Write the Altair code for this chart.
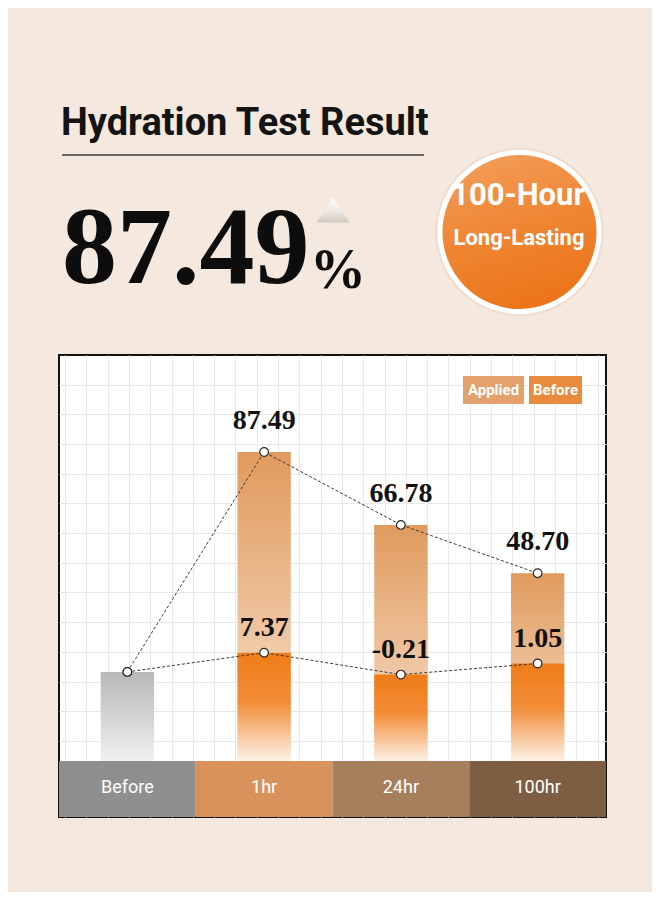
import altair as alt
import pandas as pd

# ---------------- data ----------------
categories = ["Before", "1hr", "24hr", "100hr"]
applied_vals = [29.7, 103.0, 78.7, 62.6]      # hydration level after application (arb. units)
before_vals = [29.7, 36.1, 28.8, 32.5]        # hydration level of untreated skin (arb. units)
applied_labels = ["", "87.49", "66.78", "48.70"]
before_labels = ["", "7.37", "-0.21", "1.05"]
band_colors = ["#8f8f8f", "#d9925b", "#a67f5c", "#7e5e43"]

title_text = "Hydration Test Result"
headline_value = "87.49"
headline_unit = "%"
badge_line1 = "100-Hour"
badge_line2 = "Long-Lasting"
legend_applied = "Applied"
legend_before = "Before"

NARROW = "Roboto, 'Liberation Sans', sans-serif"
SERIF = "Liberation Serif"

W, H = 547, 462
BASE = 406  # pixel row of bar baseline inside plot

df = pd.DataFrame({
    "category": categories,
    "applied": applied_vals,
    "before": before_vals,
    "applied_label": applied_labels,
    "before_label": before_labels,
    "idx": list(range(len(categories))),
})
line_df = pd.concat([
    pd.DataFrame({"category": categories, "value": applied_vals, "series": "Applied", "idx": range(4)}),
    pd.DataFrame({"category": categories, "value": before_vals, "series": "Before", "idx": range(4)}),
])

xscale = alt.Scale(domain=categories, paddingInner=0, paddingOuter=0)
yscale = alt.Scale(domain=[0, 135], range=[BASE, 1], nice=False, zero=True)
hgrid = [6.7, 16.6, 26.5, 36.4, 46.3, 56.2, 66.1, 76.0, 85.9, 95.8, 105.7, 115.6, 125.5]
yaxis = alt.Axis(values=hgrid, grid=True, labels=False, ticks=False, domain=False,
                 title=None, gridColor="#e8e8e8", gridWidth=1)


def X():
    return alt.X("category:N", scale=xscale, axis=None, sort=categories)


def Y(field):
    return alt.Y(f"{field}:Q", scale=yscale, axis=yaxis, title=None)


def grad(stops, x1=0, x2=0, y1=0, y2=1):
    return alt.LinearGradient(
        gradient="linear", x1=x1, x2=x2, y1=y1, y2=y2,
        stops=[alt.GradientStop(color=c, offset=o) for o, c in stops])


base = alt.Chart(df)

band = base.mark_rect().encode(
    x=X(),
    y=alt.value(BASE), y2=alt.value(H),
    color=alt.Color("category:N", scale=alt.Scale(domain=categories, range=band_colors), legend=None),
)
band_text = base.mark_text(color="white", font=NARROW, fontSize=18, baseline="middle").encode(
    x=X(), y=alt.value(433), text="category:N")

gray_bar = base.transform_filter(alt.datum.category == "Before").mark_bar(
    width=alt.RelativeBandSize(0.39),
    color=grad([(0, "#b8b8b8"), (1, "#f2f0f1")])).encode(x=X(), y=Y("applied"))

applied_bar = base.transform_filter(alt.datum.category != "Before").mark_bar(
    width=alt.RelativeBandSize(0.39),
    color=grad([(0, "#e09a5d"), (0.6, "#efc6a2"), (1, "#fbeee3")])).encode(x=X(), y=Y("applied"))

before_bar = base.transform_filter(alt.datum.category != "Before").mark_bar(
    width=alt.RelativeBandSize(0.39),
    color=grad([(0, "#ef7c18"), (0.45, "#f28c36"), (1, "#fdf2e8")])).encode(x=X(), y=Y("before"))

lines = alt.Chart(line_df).mark_line(
    strokeDash=[3, 2], color="#3a3a3a", strokeWidth=1).encode(
    x=X(), y=Y("value"), detail="series:N", order="idx:Q")

points = alt.Chart(line_df).mark_circle(
    fill="white", stroke="#2a2a2a", strokeWidth=1.2, size=75, opacity=1).encode(
    x=X(), y=Y("value"))

label_up = base.transform_filter(alt.datum.category != "Before").mark_text(
    font=SERIF, fontWeight="bold", fontSize=28, color="#111", baseline="middle", dy=-31).encode(
    x=X(), y=Y("applied"), text="applied_label:N")
label_low = base.transform_filter(alt.datum.category != "Before").mark_text(
    font=SERIF, fontWeight="bold", fontSize=28, color="#111", baseline="middle", dy=-25).encode(
    x=X(), y=Y("before"), text="before_label:N")

one = alt.Chart(alt.Data(values=[{"k": 1}]))

leg_a = one.mark_rect(color="#e4a16d").encode(
    x=alt.value(404), x2=alt.value(465), y=alt.value(21), y2=alt.value(49))
leg_b = one.mark_rect(color="#e98b3c").encode(
    x=alt.value(470), x2=alt.value(523), y=alt.value(21), y2=alt.value(49))
leg_a_t = one.mark_text(text=legend_applied, color="white", font=NARROW, fontSize=15,
                        fontWeight="bold", baseline="middle").encode(x=alt.value(434.5), y=alt.value(35))
leg_b_t = one.mark_text(text=legend_before, color="white", font=NARROW, fontSize=15,
                        fontWeight="bold", baseline="middle").encode(x=alt.value(496.5), y=alt.value(35))

# ---------------- header (above the plot box) ----------------
title = one.mark_text(text=title_text, font=NARROW, fontSize=38, fontWeight="bold",
                      color="#141414", align="left", baseline="alphabetic").encode(
    x=alt.value(2), y=alt.value(-220))
underline = one.mark_rule(color="#3c3c3c", strokeWidth=1.3).encode(
    x=alt.value(3), x2=alt.value(365), y=alt.value(-200))
big = one.mark_text(text=headline_value, font=SERIF, fontSize=110, fontWeight="bold",
                    color="#0d0d0d", align="left", baseline="alphabetic").encode(
    x=alt.value(3), y=alt.value(-72))
pct = one.mark_text(text=headline_unit, font=SERIF, fontSize=56, fontWeight="bold",
                    color="#0d0d0d", align="left", baseline="alphabetic").encode(
    x=alt.value(251), y=alt.value(-67))
tri = one.mark_point(shape="M-1,0.75L0,-0.75L1,0.75Z", size=1089, filled=True, opacity=1,
                     fill=grad([(0, "#ffffff"), (0.6, "#ece6e0"), (1, "#d2c8be")])).encode(
    x=alt.value(274), y=alt.value(-145))
badge_glow = one.mark_circle(size=28500, color="#ead5c6", opacity=0.55).encode(
    x=alt.value(460.5), y=alt.value(-123))
badge = one.mark_point(shape="circle", size=25281, filled=True, opacity=1,
                       fill=grad([(0, "#f39c58"), (0.5, "#ef8532"), (1, "#ec7317")], x1=0.3, x2=0.6),
                       stroke="white", strokeWidth=5).encode(
    x=alt.value(460.5), y=alt.value(-123))
badge_t1 = one.mark_text(text=badge_line1, font=NARROW, fontSize=31, fontWeight="bold",
                         color="white", baseline="alphabetic").encode(x=alt.value(459), y=alt.value(-150))
badge_t2 = one.mark_text(text=badge_line2, font=NARROW, fontSize=22, fontWeight="bold",
                         color="white", baseline="alphabetic").encode(x=alt.value(460), y=alt.value(-110))

# vertical grid layer on its own pixel-like scale
vgrid = [6 + 21.3 * k for k in range(26)]
grid_layer = alt.Chart(alt.Data(values=[{"gx": 0}, {"gx": W}])).mark_point(opacity=0).encode(
    x=alt.X("gx:Q", scale=alt.Scale(domain=[0, W], nice=False, zero=False),
            axis=alt.Axis(values=vgrid, grid=True, labels=False, ticks=False, domain=False,
                          title=None, orient="top", gridColor="#e8e8e8", gridWidth=1)))

inner = alt.layer(band, band_text, gray_bar, applied_bar, before_bar, lines, points,
                  label_up, label_low, leg_a, leg_b, leg_a_t, leg_b_t,
                  title, underline, big, pct, tri, badge_glow, badge, badge_t1, badge_t2)

chart = alt.layer(grid_layer, inner).resolve_scale(x="independent").properties(
    width=W, height=H,
    padding={"left": 51, "top": 347, "right": 46, "bottom": 75},
    autosize=alt.AutoSizeParams(type="none"),
    background="#f5e9df",
).configure_view(stroke="#111111", strokeWidth=2, fill="white")

chart.save("out.html", embed_options={"renderer": "svg", "actions": False})
